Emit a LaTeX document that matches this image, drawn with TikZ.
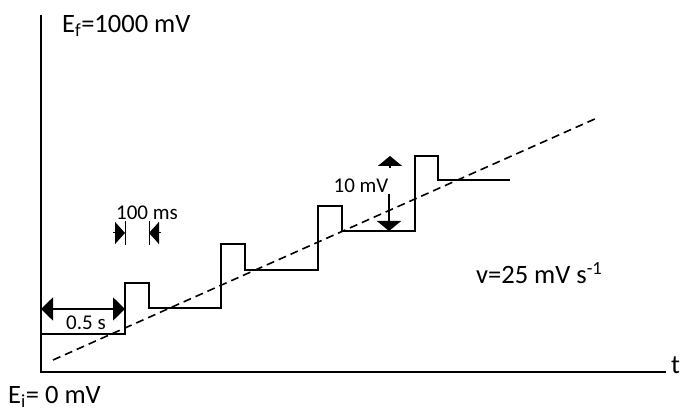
\documentclass[tikz,border=0pt]{standalone}
\usepackage{fontspec}
\setmainfont{Carlito}
\usetikzlibrary{arrows.meta}
\begin{document}
\begin{tikzpicture}[x=1pt,y=-1pt,
  axisline/.style={line width=2.2pt},
  stairline/.style={line width=2pt},
  rampline/.style={line width=1.6pt,dash pattern=on 8pt off 5pt},
  bigtip/.style={-{Triangle[length=10pt,width=24pt]}},
  bigtips/.style={{Triangle[length=12pt,width=23pt]}-{Triangle[length=12pt,width=23pt]}},
  smalltip/.style={-{Triangle[length=10pt,width=22pt]}},
  lbl/.style={inner sep=0pt,font=\fontsize{26.5}{31}\selectfont},
  slbl/.style={inner sep=0pt,font=\fontsize{21}{25}\selectfont}]
\useasboundingbox (0,0) rectangle (682,411);
% axes
\coordinate (ytop) at (41,15);
\coordinate (origin) at (41,372);
\coordinate (xend) at (666,372);
\draw[axisline] (ytop) -- (origin) -- (xend);
% staircase
\coordinate (s0) at (41,334);
\coordinate (s1) at (125,334);
\coordinate (s2) at (125,283);
\coordinate (s3) at (149,283);
\coordinate (s4) at (149,308);
\coordinate (s5) at (221,308);
\coordinate (s6) at (221,244);
\coordinate (s7) at (245,244);
\coordinate (s8) at (245,270);
\coordinate (s9) at (318,270);
\coordinate (s10) at (318,206);
\coordinate (s11) at (342,206);
\coordinate (s12) at (342,231);
\coordinate (s13) at (415,231);
\coordinate (s14) at (415,156);
\coordinate (s15) at (438,156);
\coordinate (s16) at (438,180);
\coordinate (s17) at (510,180);
\draw[stairline] (s0) -- (s1) -- (s2) -- (s3) -- (s4) -- (s5) -- (s6) -- (s7) -- (s8) -- (s9) -- (s10) -- (s11) -- (s12) -- (s13) -- (s14) -- (s15) -- (s16) -- (s17);
% ramp
\coordinate (r0) at (53,360);
\coordinate (r1) at (597,118);
\draw[rampline] (r0) -- (r1);
% 0.5 s
\coordinate (h0) at (41,309);
\coordinate (h1) at (125,309);
\draw[line width=1.8pt,bigtips] (h0) -- (h1);
\node[slbl] (halfs) at (86,323) {0.5 s};
% 100 ms
\coordinate (t0a) at (125,221);
\coordinate (t0b) at (125,245);
\coordinate (t1a) at (149,221);
\coordinate (t1b) at (149,245);
\draw[line width=1pt] (t0a) -- (t0b) (t1a) -- (t1b);
\coordinate (ma0) at (113,233);
\coordinate (ma1) at (125,233);
\coordinate (mb0) at (161,233);
\coordinate (mb1) at (149,233);
\draw[line width=1pt,smalltip] (ma0) -- (ma1);
\draw[line width=1pt,smalltip] (mb0) -- (mb1);
\node[slbl] (ms) at (147,213) {100 ms};
% 10 mV
\coordinate (u0) at (390,168);
\coordinate (u1) at (390,156);
\draw[line width=1.8pt,bigtip] (u0) -- (u1);
\coordinate (d0) at (389,194);
\coordinate (d1) at (389,231);
\draw[line width=1.8pt,bigtip] (d0) -- (d1);
\node[slbl] (mv) at (361,186) {10 mV};
% labels
\node[lbl,anchor=west] (ef) at (62,26) {E\textsubscript{f}=1000 mV};
\node[lbl,anchor=base west] (ei) at (8,403) {E\textsubscript{i}= 0 mV};
\node[lbl,anchor=west] (v) at (476,273) {v=25 mV s\textsuperscript{-1}};
\node[lbl,anchor=west] (t) at (671,365) {t};
\end{tikzpicture}
\end{document}
